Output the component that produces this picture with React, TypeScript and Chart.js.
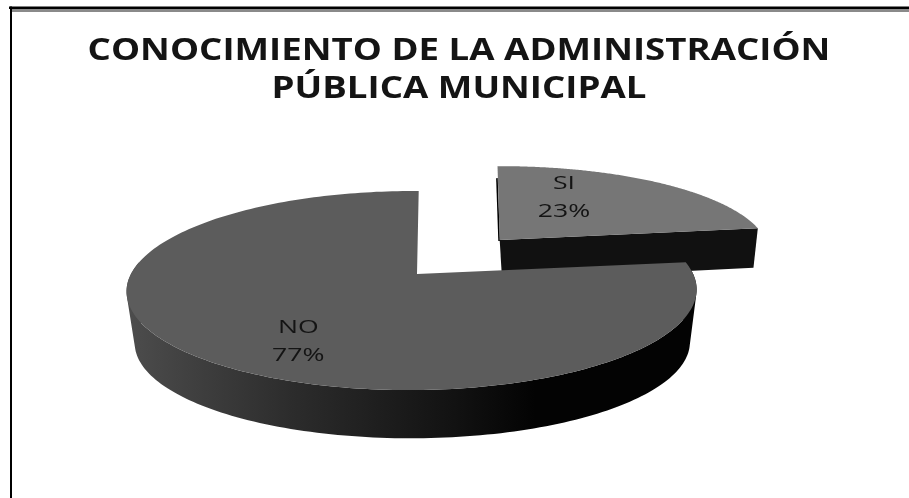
import React, { useEffect, useRef } from "react";
import { Chart, registerables } from "chart.js";

Chart.register(...registerables);

const titleLines = ["CONOCIMIENTO DE LA ADMINISTRACIÓN", "PÚBLICA MUNICIPAL"];
const categories = ["SI", "NO"];
const percentages = [23, 77];
const topColors = ["#767676", "#5c5c5c"];
const explode = [0.5, 0];
const labelRadius = [0.609, 0.715];
const labelShiftDeg = [-15.6, -10];

const VIEW = { cx: 417, cy: 274, rx: 281, ry: 96.8, k: 0.166, m: 0.0176, sh: -2 };
const TITLE_STRETCH = 1.182;
const TITLE_CENTER = 459;
const UNIT = [
  { x: 0, y: 0 },
  { x: 0, y: 0 },
];

type Pt = { x: number; y: number };

// lu, lv: position inside the slice, relative to its own apex (small per-slice correction of the view).
function project(i: number, lu: number, lv: number, t: number): Pt {
  const u = explode[i] * UNIT[i].x + lu;
  const v = explode[i] * UNIT[i].y + lv;
  const s = 1 / (1 - VIEW.k * v + VIEW.m * u);
  let x = VIEW.cx + (VIEW.rx * u + VIEW.sh * v) * s;
  let y = VIEW.cy + VIEW.ry * v * s;
  if (i === 0) {
    x += -5 - 8 * lv + 8 * lu;
    y += -2 * lu;
  }
  if (t > 0) {
    x = x - 0.0263 * (x - 440) * t + (i === 0 ? 4 : 0) * t;
    y = y + (i === 0 ? 15 + 27 * s : 53 - 24 * (s - 1)) * t;
  }
  return { x, y };
}

function addPoly(ctx: CanvasRenderingContext2D, pts: Pt[]) {
  pts.forEach((p, i) => (i ? ctx.lineTo(p.x, p.y) : ctx.moveTo(p.x, p.y)));
  ctx.closePath();
}

function tracePath(ctx: CanvasRenderingContext2D, pts: Pt[]) {
  ctx.beginPath();
  addPoly(ctx, pts);
}

function area(p: Pt[]) {
  let a = 0;
  p.forEach((q, i) => {
    const r = p[(i + 1) % p.length];
    a += q.x * r.y - r.x * q.y;
  });
  return a;
}

const pie3d = {
  id: "pie3d",
  beforeDraw(chart: any) {
    const { ctx, width, height } = chart;
    ctx.fillStyle = "#ffffff";
    ctx.fillRect(0, 0, width, height);
    ctx.fillStyle = "#8a8a8a";
    ctx.fillRect(12, 9, width - 12, 3);
    ctx.fillStyle = "#000000";
    ctx.fillRect(9, 6.5, width - 9, 2.5);
    ctx.fillRect(10, 6.5, 2, height - 6.5);
    // the title block is drawn next: widen it as in the reference
    ctx.save();
    ctx.translate(TITLE_CENTER, 0);
    ctx.scale(TITLE_STRETCH, 1);
    ctx.translate(-TITLE_CENTER, 0);
  },
  beforeDatasetsDraw(chart: any) {
    chart.ctx.restore();
  },
  beforeDatasetDraw(chart: any) {
    const { ctx } = chart;
    const arcs = chart.getDatasetMeta(0).data;
    arcs.forEach((arc: any, i: number) => {
      const a0 = arc.startAngle;
      const a1 = arc.endAngle;
      const mid = (a0 + a1) / 2;
      UNIT[i] = { x: Math.cos(mid), y: Math.sin(mid) };
      const steps = 220;
      const top: Pt[] = [];
      const bottom: Pt[] = [];
      for (let j = 0; j <= steps; j++) {
        const a = a0 + ((a1 - a0) * j) / steps;
        top.push(project(i, Math.cos(a), Math.sin(a), 0));
        bottom.push(project(i, Math.cos(a), Math.sin(a), 1));
      }
      const apexT = project(i, 0, 0, 0);
      const apexB = project(i, 0, 0, 1);
      ctx.save();
      if (i === 0) {
        ctx.fillStyle = "#111111";
        tracePath(ctx, [apexT, top[steps], bottom[steps], apexB]);
        ctx.fill();
        ctx.strokeStyle = "#000000";
        ctx.lineWidth = 1.6;
        ctx.beginPath();
        ctx.moveTo(top[0].x - 0.6, top[0].y + 12);
        ctx.lineTo(apexT.x - 0.6, apexT.y + 1);
        ctx.stroke();
      } else {
        const g = ctx.createLinearGradient(130, 0, 535, 0);
        g.addColorStop(0, "#4c4c4c");
        g.addColorStop(0.4, "#2c2c2c");
        g.addColorStop(0.8, "#121212");
        g.addColorStop(1, "#030303");
        ctx.fillStyle = g;
        ctx.beginPath();
        for (let j = 0; j < steps; j++) {
          const a = a0 + ((a1 - a0) * (j + 0.5)) / steps;
          if (Math.sin(a) < -0.12) continue;
          const q = [top[j], top[j + 1], bottom[j + 1], bottom[j]];
          addPoly(ctx, area(q) < 0 ? q.reverse() : q);
        }
        ctx.fill();
      }
      ctx.fillStyle = arc.options.backgroundColor;
      tracePath(ctx, [apexT, ...top]);
      ctx.fill();
      ctx.restore();
    });
    return false;
  },
  afterDatasetsDraw(chart: any) {
    const { ctx } = chart;
    const arcs = chart.getDatasetMeta(0).data;
    arcs.forEach((arc: any, i: number) => {
      const mid = (arc.startAngle + arc.endAngle) / 2;
      const ang = mid + (labelShiftDeg[i] * Math.PI) / 180;
      const p = project(i, labelRadius[i] * Math.cos(ang), labelRadius[i] * Math.sin(ang), 0);
      ctx.save();
      ctx.translate(p.x, p.y);
      ctx.scale(1.4, 1);
      ctx.fillStyle = "#141414";
      ctx.font = '19px "Open Sans"';
      ctx.textAlign = "center";
      ctx.textBaseline = "middle";
      ctx.fillText(categories[i], 0, -13);
      ctx.fillText(`${percentages[i]}%`, 0, 15);
      ctx.restore();
    });
  },
};

export default function App() {
  const ref = useRef<HTMLCanvasElement>(null);
  useEffect(() => {
    const chart = new Chart(ref.current as HTMLCanvasElement, {
      type: "pie",
      data: {
        labels: categories,
        datasets: [{ data: percentages, backgroundColor: topColors, borderWidth: 0 }],
      },
      options: {
        animation: false,
        responsive: false,
        layout: { padding: { left: 9 } },
        plugins: {
          legend: { display: false },
          tooltip: { enabled: false },
          title: {
            display: true,
            text: titleLines,
            color: "#141414",
            font: { family: '"Open Sans"', size: 31, weight: "700", lineHeight: 1.23 },
            padding: { top: 32, bottom: 10 },
          },
        },
      },
      plugins: [pie3d],
    } as any);
    return () => chart.destroy();
  }, []);
  return (
    <div style={{ position: "fixed", left: 0, top: 0, width: 909, height: 498, background: "#fff" }}>
      <canvas ref={ref} width={909} height={498} style={{ display: "block", filter: "blur(0.45px)" }} />
    </div>
  );
}
